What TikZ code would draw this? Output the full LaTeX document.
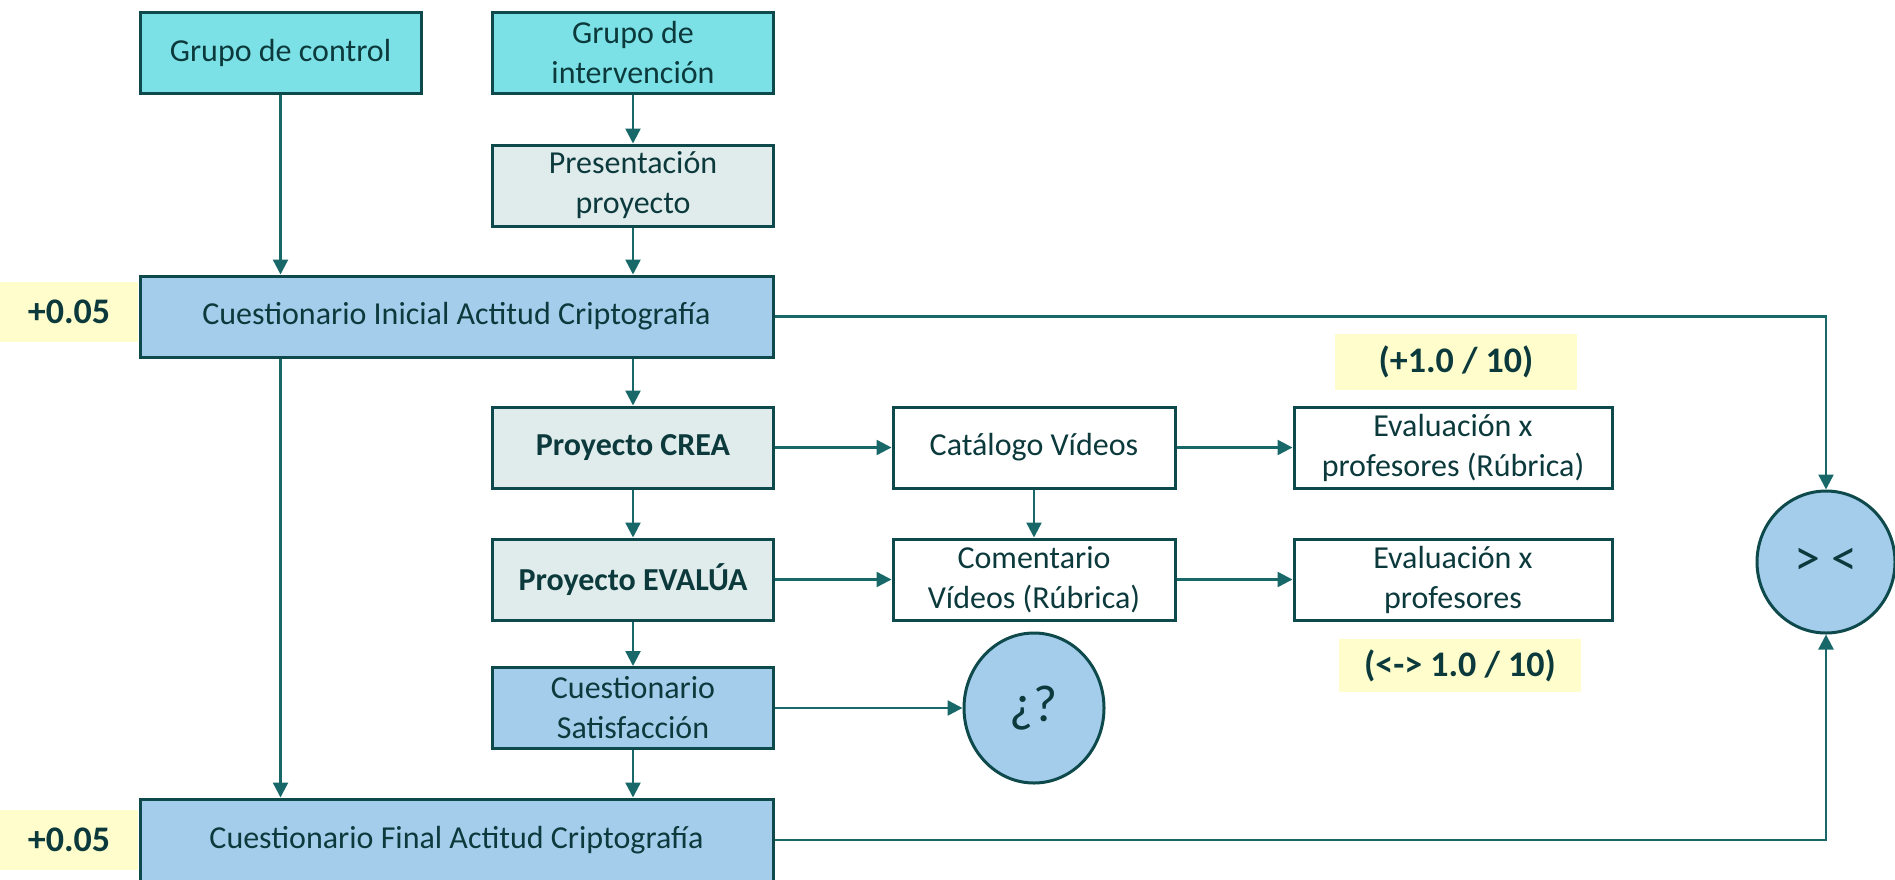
\documentclass[tikz,border=0pt]{standalone}
\usepackage{fontspec}
\setmainfont{Carlito}
\usetikzlibrary{arrows.meta}
\usetikzlibrary{shapes.geometric}

\definecolor{bordeOsc}{RGB}{14,74,76}
\definecolor{flechaCol}{RGB}{24,104,106}
\definecolor{textoOsc}{RGB}{12,58,60}
\definecolor{grupoFill}{RGB}{124,225,230}
\definecolor{palidoFill}{RGB}{224,236,236}
\definecolor{azulFill}{RGB}{164,205,236}
\definecolor{notaFill}{RGB}{255,253,204}

\begin{document}
\begin{tikzpicture}[x=1pt,y=1pt,yscale=-1,xscale=1,
  caja/.style={draw=bordeOsc,line width=3pt,rectangle,minimum height=81pt,inner sep=2pt,
    align=center,text=textoOsc,font=\fontsize{32}{40}\selectfont},
  grupo/.style={caja,fill=grupoFill,minimum width=281pt},
  fase/.style={caja,fill=palidoFill,minimum width=281pt},
  cuest/.style={caja,fill=azulFill},
  blanca/.style={caja,fill=white},
  nota/.style={fill=notaFill,inner sep=0pt,text=textoOsc,font=\fontsize{36}{42}\selectfont\bfseries},
  globo/.style={ellipse,draw=bordeOsc,line width=3pt,fill=azulFill,inner sep=0pt,text=textoOsc,font=\fontsize{52}{58}\selectfont},
  flecha/.style={draw=flechaCol,line width=2.4pt,-{Triangle[length=15pt,width=15pt]}}]
\useasboundingbox (0,0) rectangle (1895,879);

% Grupos
\node [grupo] (control) at (280.5,52.5) {Grupo de control};
\node [grupo] (interv) at (633,52.5) {Grupo de\\intervención};
\node [fase] (present) at (633,185.5) {Presentación\\proyecto};

% Cuestionarios
\node [cuest,minimum width=633pt] (inicial) at (456.5,316.5) {Cuestionario Inicial Actitud Criptografía};
\node [cuest,minimum width=633pt,minimum height=82pt] (final) at (456.5,840) {Cuestionario Final Actitud Criptografía};
\node [cuest,minimum width=281pt] (satisf) at (633,708) {Cuestionario\\Satisfacción};

% Proyectos
\node [fase,font=\fontsize{32}{40}\selectfont\bfseries] (crea) at (633,447.5) {Proyecto CREA};
\node [fase,font=\fontsize{32}{40}\selectfont\bfseries] (evalua) at (633,579.5) {Proyecto EVALÚA};
\node [blanca,minimum width=282pt] (catalogo) at (1034,447.5) {Catálogo Vídeos};
\node [blanca,minimum width=282pt] (comentario) at (1034,579.5) {Comentario\\Vídeos (Rúbrica)};
\node [blanca,minimum width=318pt] (evalA) at (1453,447.5) {Evaluación x\\profesores (Rúbrica)};
\node [blanca,minimum width=318pt] (evalB) at (1453,579.5) {Evaluación x\\profesores};

% Globos
\node [globo,minimum width=140pt,minimum height=150pt] (duda) at (1034,708) {¿?};
\node [globo,minimum width=138pt,minimum height=142pt] (compara) at (1826,562) {> <};

% Text Node
\node [nota,minimum width=138pt,minimum height=60pt] (notaIni) at (69,312) {+0.05};
\node [nota,minimum width=138pt,minimum height=60pt] (notaFin) at (69,840) {+0.05};
\node [nota,minimum width=242pt,minimum height=56pt] (notaCrea) at (1456,362) {(+1.0 / 10)};
\node [nota,minimum width=242pt,minimum height=53pt] (notaEval) at (1460,665.5) {(<-> 1.0 / 10)};

% Flechas
\draw [flecha] (control) -- (control |- inicial.north);
\draw [flecha] (control |- inicial.south) -- (control |- final.north);
\draw [flecha] (interv) -- (present);
\draw [flecha] (present) -- (present |- inicial.north);
\draw [flecha] (present |- inicial.south) -- (crea);
\draw [flecha] (crea) -- (evalua);
\draw [flecha] (evalua) -- (satisf);
\draw [flecha] (satisf) -- (satisf |- final.north);
\draw [flecha] (crea) -- (catalogo);
\draw [flecha] (catalogo) -- (evalA);
\draw [flecha] (catalogo) -- (comentario);
\draw [flecha] (evalua) -- (comentario);
\draw [flecha] (comentario) -- (evalB);
\draw [flecha] (satisf) -- (duda);
\draw [flecha] (inicial.east) -| (compara.north);
\draw [flecha] (final.east) -| (compara.south);

\end{tikzpicture}
\end{document}
